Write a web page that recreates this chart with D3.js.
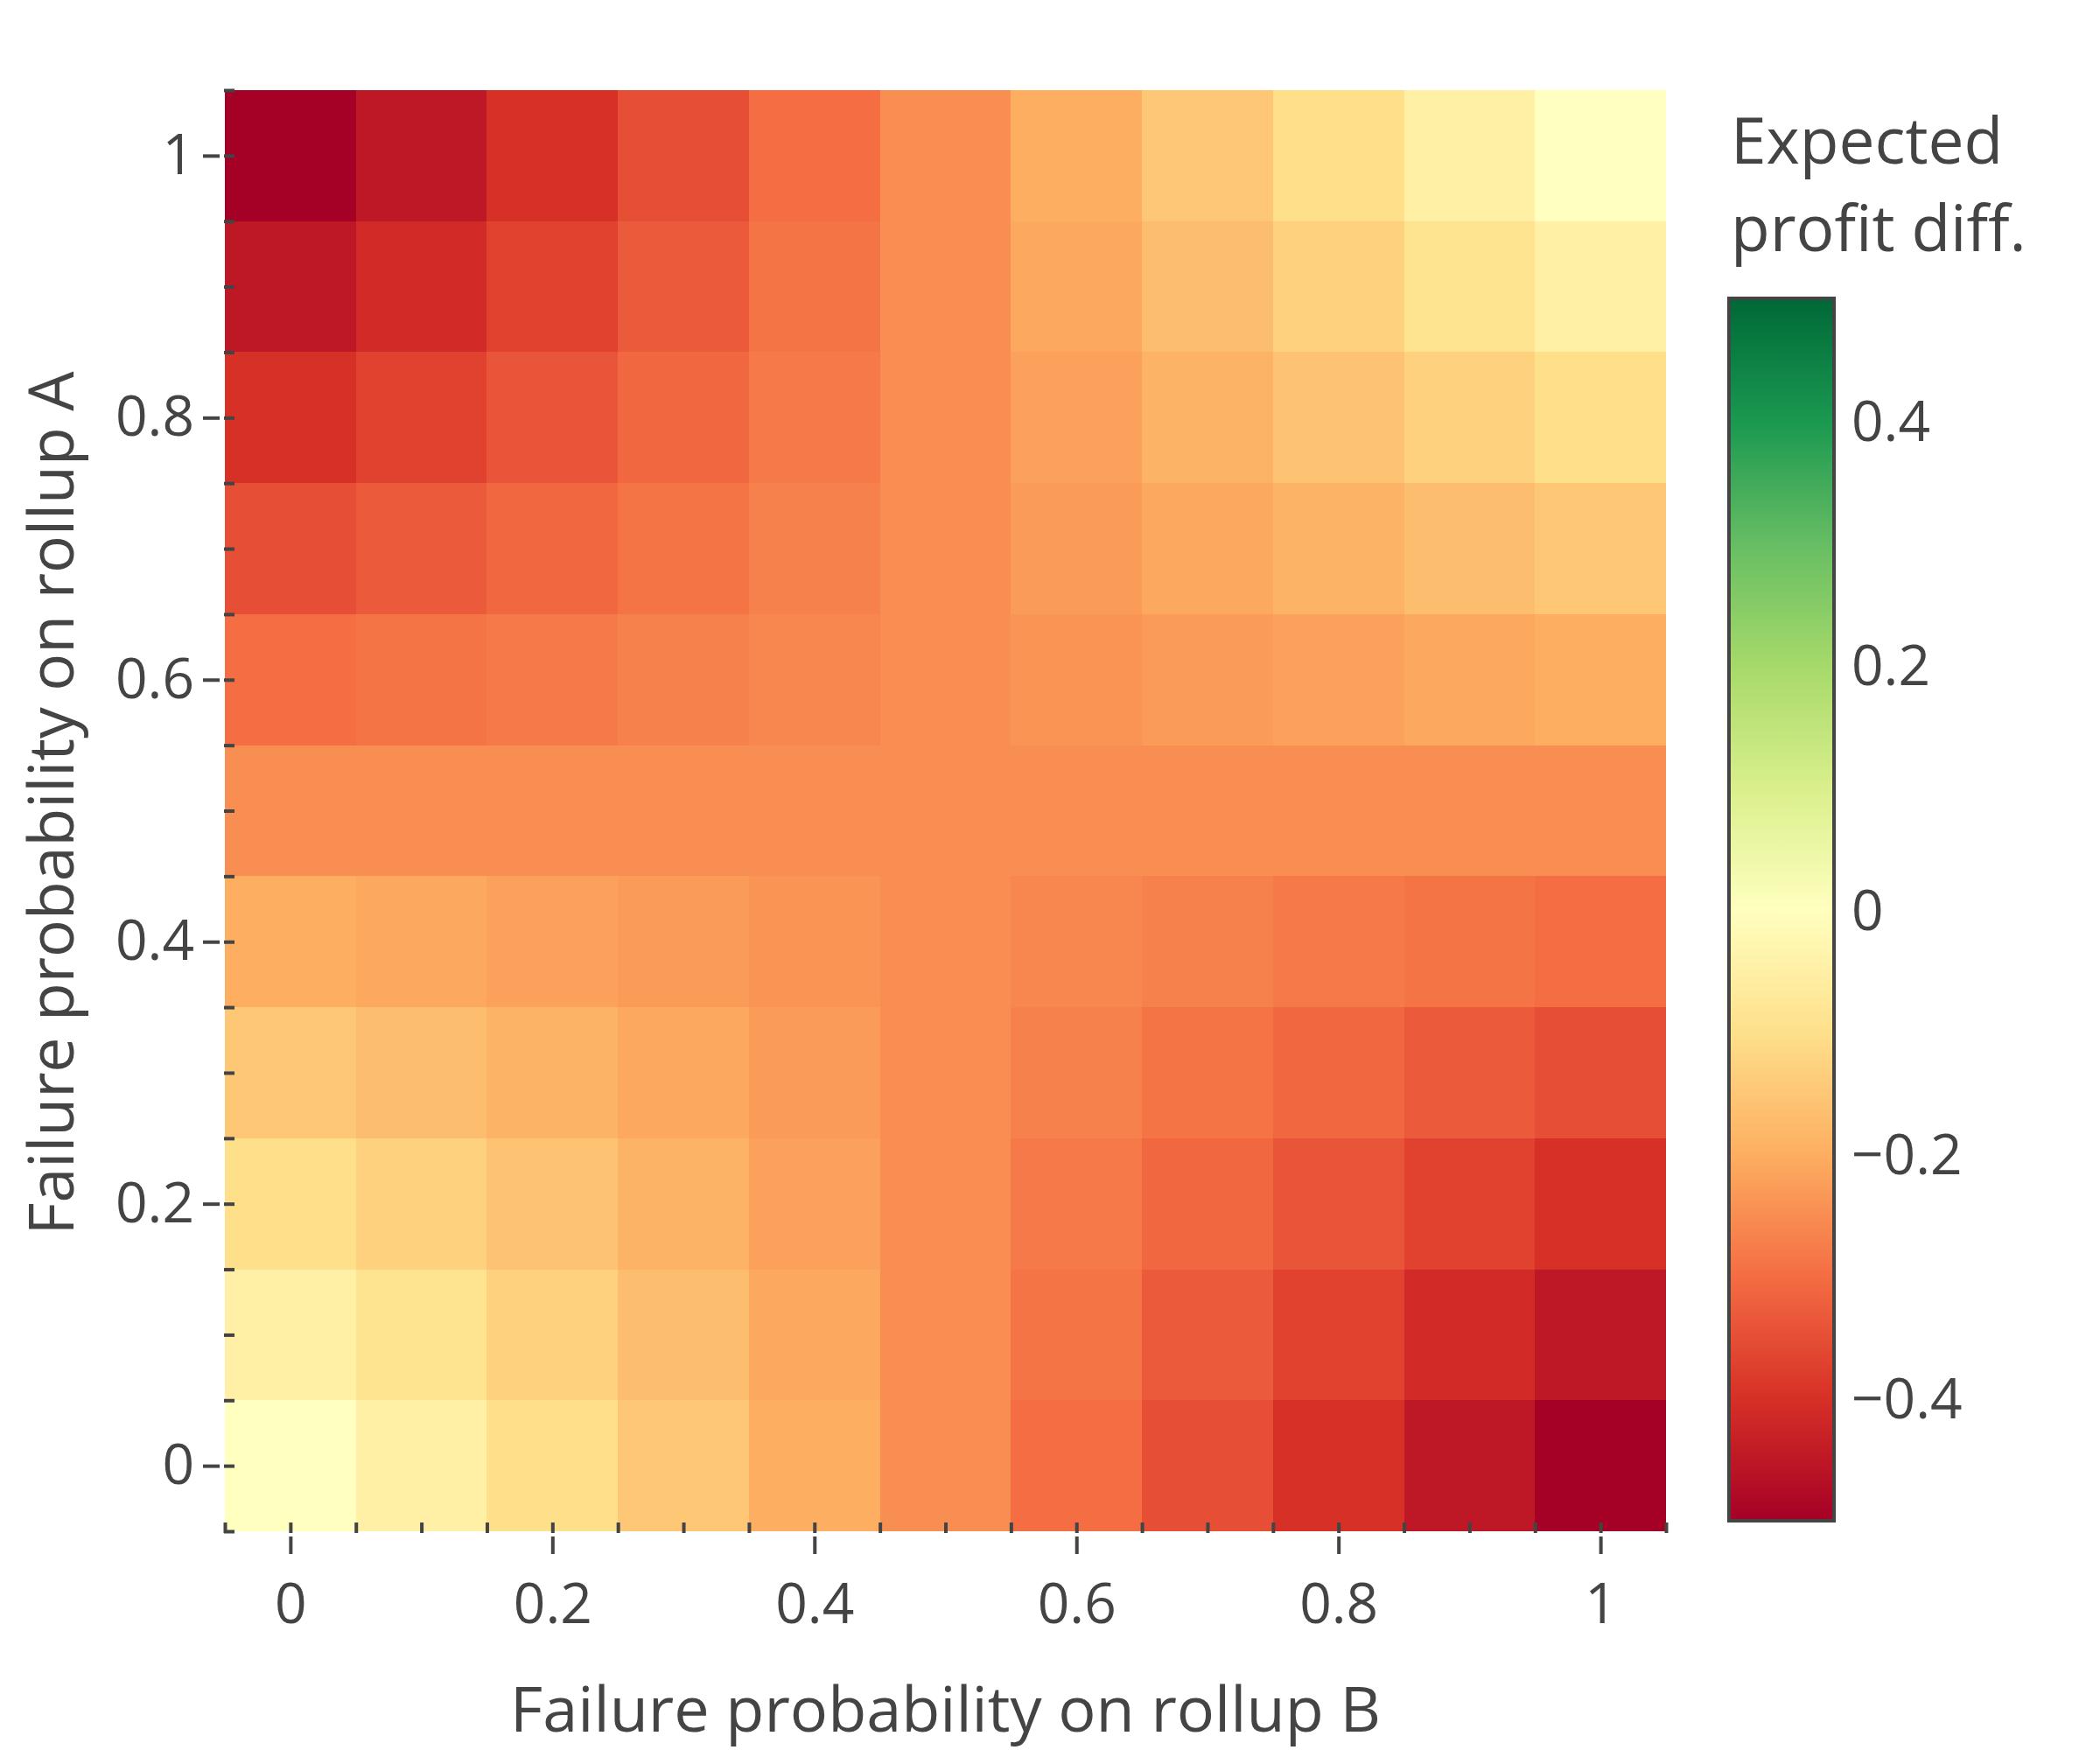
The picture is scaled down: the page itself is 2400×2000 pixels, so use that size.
<!DOCTYPE html>
<html>
<head>
<meta charset="utf-8">
<script src="https://d3js.org/d3.v7.min.js"></script>
<style>
  body { margin: 0; background: #fff; }
  text { font-family: "Open Sans", "Noto Sans", sans-serif; fill: #444; }
</style>
</head>
<body>
<div id="my_chart"></div>
<script>
// failure probability on rollup B (columns) and rollup A (rows)
var xVals = [0, 0.1, 0.2, 0.3, 0.4, 0.5, 0.6, 0.7, 0.8, 0.9, 1];
var yVals = [0, 0.1, 0.2, 0.3, 0.4, 0.5, 0.6, 0.7, 0.8, 0.9, 1];

// expected profit diff, one row per yVals entry (bottom to top)
var zRows = [
  [0.00, -0.05, -0.10, -0.15, -0.20, -0.25, -0.30, -0.35, -0.40, -0.45, -0.50],
  [-0.05, -0.09, -0.13, -0.17, -0.21, -0.25, -0.29, -0.33, -0.37, -0.41, -0.45],
  [-0.10, -0.13, -0.16, -0.19, -0.22, -0.25, -0.28, -0.31, -0.34, -0.37, -0.40],
  [-0.15, -0.17, -0.19, -0.21, -0.23, -0.25, -0.27, -0.29, -0.31, -0.33, -0.35],
  [-0.20, -0.21, -0.22, -0.23, -0.24, -0.25, -0.26, -0.27, -0.28, -0.29, -0.30],
  [-0.25, -0.25, -0.25, -0.25, -0.25, -0.25, -0.25, -0.25, -0.25, -0.25, -0.25],
  [-0.30, -0.29, -0.28, -0.27, -0.26, -0.25, -0.24, -0.23, -0.22, -0.21, -0.20],
  [-0.35, -0.33, -0.31, -0.29, -0.27, -0.25, -0.23, -0.21, -0.19, -0.17, -0.15],
  [-0.40, -0.37, -0.34, -0.31, -0.28, -0.25, -0.22, -0.19, -0.16, -0.13, -0.10],
  [-0.45, -0.41, -0.37, -0.33, -0.29, -0.25, -0.21, -0.17, -0.13, -0.09, -0.05],
  [-0.50, -0.45, -0.40, -0.35, -0.30, -0.25, -0.20, -0.15, -0.10, -0.05, 0.00]
];

var axisTicks = [0, 0.2, 0.4, 0.6, 0.8, 1];
var axisTickLabels = ["0", "0.2", "0.4", "0.6", "0.8", "1"];
var minorTicks = [-0.05, 0, 0.05, 0.1, 0.15, 0.2, 0.25, 0.3, 0.35, 0.4, 0.45, 0.5,
                  0.55, 0.6, 0.65, 0.7, 0.75, 0.8, 0.85, 0.9, 0.95, 1, 1.05];
var cbTicks = [-0.4, -0.2, 0, 0.2, 0.4];
var cbTickLabels = ["\u22120.4", "\u22120.2", "0", "0.2", "0.4"];

// RdYlGn stops
var stopPos = [0, 0.1, 0.2, 0.3, 0.4, 0.5, 0.6, 0.7, 0.8, 0.9, 1];
var stopCol = ["rgb(165,0,38)", "rgb(215,48,39)", "rgb(244,109,67)", "rgb(253,174,97)",
               "rgb(254,224,139)", "rgb(255,255,191)", "rgb(217,239,139)", "rgb(166,217,106)",
               "rgb(102,189,99)", "rgb(26,152,80)", "rgb(0,104,55)"];

var W = 2400, H = 2000;
var plot = {left: 257, right: 1904, top: 103, bottom: 1750};

var svg = d3.select("#my_chart").append("svg")
    .attr("width", W).attr("height", H);

var xScale = d3.scaleLinear().domain([-0.05, 1.05]).range([plot.left, plot.right]);
var yScale = d3.scaleLinear().domain([-0.05, 1.05]).range([plot.bottom, plot.top]);

var zMin = -0.5, zMax = 0.5;
var color = d3.scaleLinear()
    .domain(stopPos.map(function(p) { return zMin + p * (zMax - zMin); }))
    .range(stopCol)
    .interpolate(d3.interpolateRgb);

// cells
var cells = [];
zRows.forEach(function(row, i) {
  row.forEach(function(v, j) {
    cells.push({x: xVals[j], y: yVals[i], z: v});
  });
});
var dx = 0.05;
svg.append("g").selectAll("rect")
    .data(cells)
    .enter()
    .append("rect")
    .attr("x", function(d) { return xScale(d.x - dx); })
    .attr("y", function(d) { return yScale(d.y + dx); })
    .attr("width", function(d) { return xScale(d.x + dx) - xScale(d.x - dx); })
    .attr("height", function(d) { return yScale(d.y - dx) - yScale(d.y + dx); })
    .attr("fill", function(d) { return color(d.z); })
    .attr("shape-rendering", "crispEdges");

// minor ticks along the plot edges (pointing in)
var gxm = svg.append("g")
    .attr("transform", "translate(0," + (plot.bottom + 2) + ")")
    .call(d3.axisBottom(xScale).tickValues(minorTicks).tickSize(-12).tickFormat(""));
var gym = svg.append("g")
    .attr("transform", "translate(" + (plot.left - 1) + ",0)")
    .call(d3.axisLeft(yScale).tickValues(minorTicks).tickSize(-12).tickFormat(""));

// major ticks with labels
var gx = svg.append("g")
    .attr("transform", "translate(0," + (plot.bottom + 6) + ")")
    .call(d3.axisBottom(xScale).tickValues(axisTicks).tickSize(20).tickPadding(34)
      .tickFormat(function(d, i) { return axisTickLabels[i]; }));
var gy = svg.append("g")
    .attr("transform", "translate(" + (plot.left - 6) + ",0)")
    .call(d3.axisLeft(yScale).tickValues(axisTicks).tickSize(19).tickPadding(10)
      .tickFormat(function(d, i) { return axisTickLabels[i]; }));

[gxm, gym, gx, gy].forEach(function(g) {
  g.select(".domain").remove();
  g.selectAll("line").attr("stroke", "#444").attr("stroke-width", 4);
  g.selectAll("text").style("font-size", "64px").attr("fill", "#444")
    .style("font-family", "'Open Sans', 'Noto Sans', sans-serif");
});

// axis titles
svg.append("text")
    .attr("x", (plot.left + plot.right) / 2)
    .attr("y", 1979)
    .attr("text-anchor", "middle")
    .style("font-size", "72px")
    .text("Failure probability on rollup B");
svg.append("text")
    .attr("transform", "translate(84,918) rotate(-90)")
    .attr("text-anchor", "middle")
    .style("font-size", "71.5px")
    .text("Failure probability on rollup A");

// colorbar
var cb = {left: 1976, right: 2096, top: 341, bottom: 1738};
var cbScale = d3.scaleLinear().domain([zMin, zMax]).range([cb.bottom, cb.top]);

var defs = svg.append("defs");
var grad = defs.append("linearGradient")
    .attr("id", "cbgrad")
    .attr("x1", 0).attr("y1", 1).attr("x2", 0).attr("y2", 0);
grad.selectAll("stop")
    .data(stopPos)
    .enter()
    .append("stop")
    .attr("offset", function(d) { return d; })
    .attr("stop-color", function(d, i) { return stopCol[i]; });

svg.append("rect")
    .attr("x", cb.left).attr("y", cb.top)
    .attr("width", cb.right - cb.left).attr("height", cb.bottom - cb.top)
    .attr("fill", "url(#cbgrad)")
    .attr("stroke", "#444").attr("stroke-width", 4);

svg.append("g").selectAll("text")
    .data(cbTicks)
    .enter()
    .append("text")
    .attr("x", 2116)
    .attr("y", function(d) { return cbScale(d); })
    .attr("dy", "0.36em")
    .style("font-size", "64px")
    .text(function(d, i) { return cbTickLabels[i]; });

var cbTitle = svg.append("text")
    .attr("x", 1978)
    .style("font-size", "73px");
cbTitle.append("tspan").attr("x", 1978).attr("y", 187).text("Expected");
cbTitle.append("tspan").attr("x", 1978).attr("y", 287).text("profit diff.");
</script>
</body>
</html>
